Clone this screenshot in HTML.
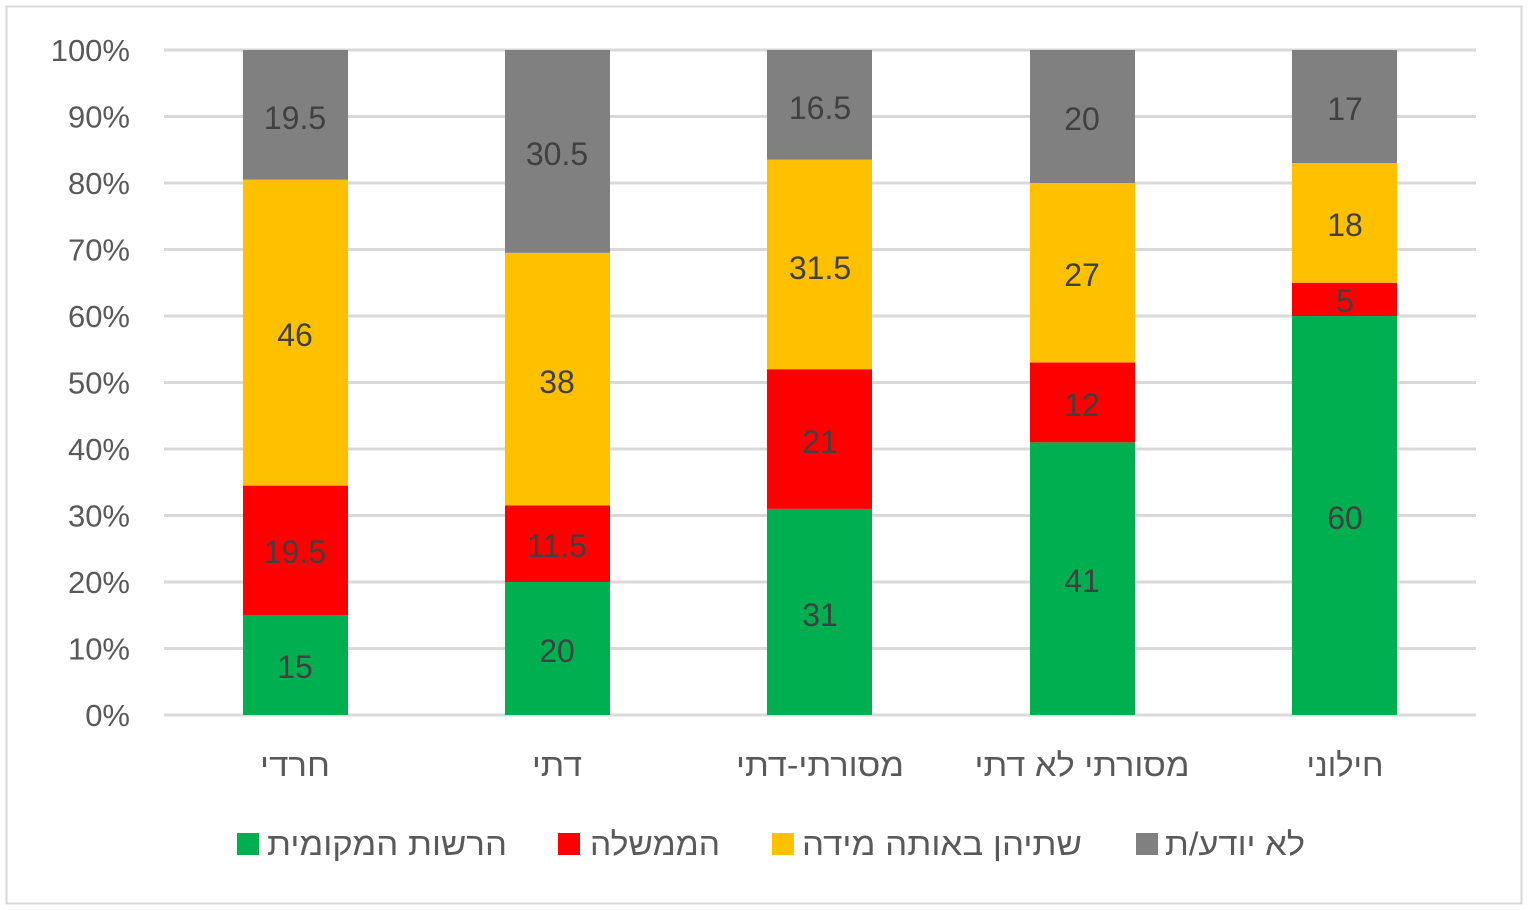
<!DOCTYPE html>
<html><head><meta charset="utf-8"><style>
html,body{margin:0;padding:0;background:#fff;}
svg{display:block;font-family:"Liberation Sans","DejaVu Sans",sans-serif;}
</style></head><body>
<svg width="1528" height="910" viewBox="0 0 1528 910">
<rect x="6.5" y="6.5" width="1515" height="897" fill="#fff" stroke="#d9d9d9" stroke-width="2"/>
<g stroke="#d9d9d9" stroke-width="3">
<line x1="164" x2="1476" y1="50" y2="50"/><line x1="164" x2="1476" y1="116.5" y2="116.5"/>
<line x1="164" x2="1476" y1="183" y2="183"/><line x1="164" x2="1476" y1="249.5" y2="249.5"/>
<line x1="164" x2="1476" y1="316" y2="316"/><line x1="164" x2="1476" y1="382.5" y2="382.5"/>
<line x1="164" x2="1476" y1="449" y2="449"/><line x1="164" x2="1476" y1="515.5" y2="515.5"/>
<line x1="164" x2="1476" y1="582" y2="582"/><line x1="164" x2="1476" y1="648.5" y2="648.5"/>
<line x1="164" x2="1476" y1="715" y2="715"/>
</g>
<g font-size="31" fill="#595959" text-anchor="end">
<text x="130" y="61">100%</text><text x="130" y="127.5">90%</text><text x="130" y="194">80%</text>
<text x="130" y="260.5">70%</text><text x="130" y="327">60%</text><text x="130" y="393.5">50%</text>
<text x="130" y="460">40%</text><text x="130" y="526.5">30%</text><text x="130" y="593">20%</text>
<text x="130" y="659.5">10%</text><text x="130" y="726">0%</text>
</g>
<g>
<rect x="243" y="615.25" width="105" height="99.75" fill="#00B050"/>
<rect x="243" y="485.6" width="105" height="129.7" fill="#FF0000"/>
<rect x="243" y="179.7" width="105" height="305.9" fill="#FFC000"/>
<rect x="243" y="50" width="105" height="129.7" fill="#808080"/>
<rect x="505" y="582" width="105" height="133" fill="#00B050"/>
<rect x="505" y="505.5" width="105" height="76.5" fill="#FF0000"/>
<rect x="505" y="252.8" width="105" height="252.7" fill="#FFC000"/>
<rect x="505" y="50" width="105" height="202.8" fill="#808080"/>
<rect x="767" y="508.9" width="105" height="206.1" fill="#00B050"/>
<rect x="767" y="369.2" width="105" height="139.7" fill="#FF0000"/>
<rect x="767" y="159.7" width="105" height="209.5" fill="#FFC000"/>
<rect x="767" y="50" width="105" height="109.7" fill="#808080"/>
<rect x="1030" y="442.35" width="105" height="272.65" fill="#00B050"/>
<rect x="1030" y="362.55" width="105" height="79.8" fill="#FF0000"/>
<rect x="1030" y="183" width="105" height="179.55" fill="#FFC000"/>
<rect x="1030" y="50" width="105" height="133" fill="#808080"/>
<rect x="1292" y="316" width="105" height="399" fill="#00B050"/>
<rect x="1292" y="282.75" width="105" height="33.25" fill="#FF0000"/>
<rect x="1292" y="163.05" width="105" height="119.7" fill="#FFC000"/>
<rect x="1292" y="50" width="105" height="113.05" fill="#808080"/>
</g>
<g font-size="32" fill="#404040" text-anchor="middle">
<text x="295" y="678">15</text><text x="295" y="563">19.5</text><text x="295" y="346">46</text><text x="295" y="129">19.5</text>
<text x="557" y="662">20</text><text x="557" y="557">11.5</text><text x="557" y="393">38</text><text x="557" y="165">30.5</text>
<text x="820" y="626">31</text><text x="820" y="453">21</text><text x="820" y="279">31.5</text><text x="820" y="119">16.5</text>
<text x="1082" y="592">41</text><text x="1082" y="416">12</text><text x="1082" y="286">27</text><text x="1082" y="130">20</text>
<text x="1345" y="529">60</text><text x="1345" y="312">5</text><text x="1345" y="236">18</text><text x="1345" y="120">17</text>
</g>
<g font-size="32" fill="#595959" text-anchor="middle">
<text x="295" y="776" textLength="70" lengthAdjust="spacingAndGlyphs">חרדי</text>
<text x="557" y="776" textLength="50" lengthAdjust="spacingAndGlyphs">דתי</text>
<text x="820" y="776" textLength="168" lengthAdjust="spacingAndGlyphs">מסורתי-דתי</text>
<text x="1082" y="776" textLength="215" lengthAdjust="spacingAndGlyphs">מסורתי לא דתי</text>
<text x="1345" y="776" textLength="77" lengthAdjust="spacingAndGlyphs">חילוני</text>
</g>
<rect x="237" y="833" width="22" height="22" fill="#00B050"/>
<rect x="558" y="833" width="22" height="22" fill="#FF0000"/>
<rect x="772" y="833" width="22" height="22" fill="#FFC000"/>
<rect x="1136" y="833" width="22" height="22" fill="#808080"/>
<g font-size="32" fill="#595959" text-anchor="middle">
<text x="387" y="855" textLength="240" lengthAdjust="spacingAndGlyphs">הרשות המקומית</text>
<text x="655" y="855" textLength="130" lengthAdjust="spacingAndGlyphs">הממשלה</text>
<text x="942" y="855" textLength="280" lengthAdjust="spacingAndGlyphs">שתיהן באותה מידה</text>
<text x="1235" y="855" textLength="140" lengthAdjust="spacingAndGlyphs">לא יודע/ת</text>
</g>
</svg>
</body></html>
